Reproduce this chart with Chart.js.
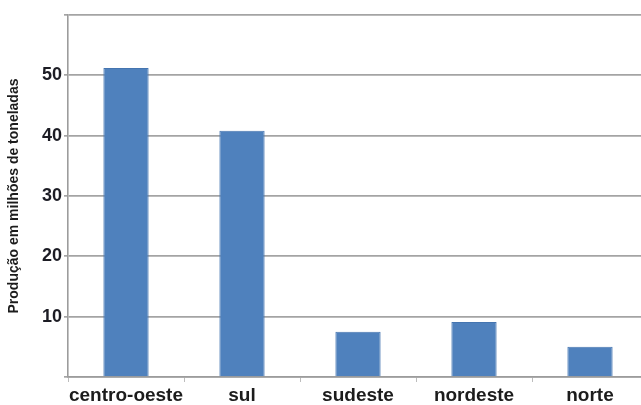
<!DOCTYPE html>
<html>
<head>
<meta charset="utf-8">
<script src="https://cdn.jsdelivr.net/npm/chart.js@4"></script>
<style>
  html, body { margin: 0; padding: 0; background: #fff; overflow: hidden; }
  #wrap { width: 660px; height: 405px; position: relative; }
</style>
</head>
<body>
<div id="wrap"><canvas id="producao_graph"></canvas></div>
<script>
const regioes = ['centro-oeste', 'sul', 'sudeste', 'nordeste', 'norte'];
const producao = [51.2, 40.8, 7.5, 9.1, 5.0];
const yTicks = [10, 20, 30, 40, 50];
const yTitle = 'Produção em milhões de toneladas';

document.addEventListener('DOMContentLoaded', function () {
  let el = document.getElementById('producao_graph');
  if (el == null) return;

  new Chart(el, {
    type: 'bar',
    data: {
      labels: regioes,
      datasets: [{
        data: producao,
        backgroundColor: '#4f81bd',
        borderColor: '#4575b0',
        borderWidth: 1,
        barPercentage: 0.39,
        categoryPercentage: 1,
      }]
    },
    options: {
      responsive: true,
      maintainAspectRatio: false,
      animation: false,
      layout: {
        padding: { left: 0, right: 12, top: 15, bottom: 0 }
      },
      plugins: {
        legend: { display: false },
        tooltip: { enabled: false },
      },
      scales: {
        x: {
          afterFit: (s) => { s.height = 28; },
          border: { color: '#9c9c9c', width: 1.6 },
          grid: {
            drawOnChartArea: false,
            drawTicks: true,
            tickLength: 5,
            color: '#bdbdbd',
          },
          ticks: {
            autoSkip: false,
            padding: 2,
            color: '#1c1c1c',
            font: { family: 'Liberation Sans, Arial, sans-serif', size: 19, weight: 'bold' },
            maxRotation: 0,
          }
        },
        y: {
          min: 0,
          max: 60,
          afterFit: (s) => { s.width = 68; },
          border: { color: '#9c9c9c', width: 1.6 },
          grid: {
            color: '#a4a4a4',
            lineWidth: 1.7,
            tickLength: 4,
          },
          ticks: {
            stepSize: 10,
            padding: 2,
            color: '#1c1c24',
            font: { family: 'Liberation Sans, Arial, sans-serif', size: 18, weight: 'bold' },
            callback: (v) => yTicks.includes(v) ? v : '',
          },
          title: {
            display: true,
            text: yTitle,
            color: '#1c1c1c',
            padding: { top: 6, bottom: 0 },
            font: { family: 'Liberation Sans, Arial, sans-serif', size: 14, weight: 'bold' },
          }
        }
      }
    }
  });
});
</script>
</body>
</html>
